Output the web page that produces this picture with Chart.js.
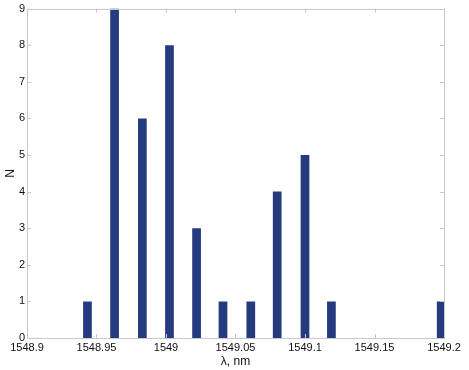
<!DOCTYPE html>
<html>
<head>
<meta charset="utf-8">
<script src="https://cdn.jsdelivr.net/npm/chart.js@4"></script>
<style>
	html, body { margin: 0; padding: 0; background: #fff; }
	#wrap { width: 469px; height: 370px; }
</style>
</head>
<body>
<div id="wrap"><canvas id="myChart"></canvas></div>
<script>
// bin centres (nm) and counts
var binCenters = [1548.9435, 1548.963, 1548.983, 1549.0025, 1549.022, 1549.041, 1549.061,
	1549.080, 1549.100, 1549.119, 1549.139, 1549.159, 1549.178, 1549.198];
var counts = [1, 9, 6, 8, 3, 1, 1, 4, 5, 1, 0, 0, 0, 1];
var xTicks = [1548.9, 1548.95, 1549, 1549.05, 1549.1, 1549.15, 1549.2];
var yTicks = [0, 1, 2, 3, 4, 5, 6, 7, 8, 9];

var points = binCenters.map(function (x, i) {
	return { x: x, y: counts[i] };
});

// box round the axes plus small inward ticks, matlab style
var boxPlugin = {
	id: 'box',
	afterDraw: function (chart) {
		var ctx = chart.ctx,
			a = chart.chartArea,
			xs = chart.scales.x,
			ys = chart.scales.y;
		ctx.save();
		ctx.strokeStyle = '#c8c8c8';
		ctx.lineWidth = 1;
		ctx.strokeRect(Math.round(a.left) + 0.5, Math.round(a.top) + 0.5,
			Math.round(a.right - a.left), Math.round(a.bottom - a.top));
		ctx.beginPath();
		xTicks.forEach(function (v) {
			var px = Math.round(xs.getPixelForValue(v)) + 0.5;
			ctx.moveTo(px, a.bottom);
			ctx.lineTo(px, a.bottom - 4);
			ctx.moveTo(px, a.top);
			ctx.lineTo(px, a.top + 4);
		});
		yTicks.forEach(function (v) {
			var py = Math.round(ys.getPixelForValue(v)) + 0.5;
			ctx.moveTo(a.left, py);
			ctx.lineTo(a.left + 4, py);
			ctx.moveTo(a.right, py);
			ctx.lineTo(a.right - 4, py);
		});
		ctx.stroke();
		ctx.restore();
	}
};

var fontFamily = '"Liberation Sans", Arial, sans-serif';
var tickFont = { family: fontFamily, size: 11 };

new Chart(document.getElementById('myChart'), {
	type: 'bar',
	data: {
		datasets: [{
			data: points,
			backgroundColor: '#263a80',
			borderWidth: 0,
			barPercentage: 0.33,
			categoryPercentage: 1
		}]
	},
	options: {
		responsive: true,
		maintainAspectRatio: false,
		animation: false,
		events: [],
		layout: { padding: { top: 8, right: 25, left: 0, bottom: 0 } },
		plugins: {
			legend: { display: false },
			tooltip: { enabled: false }
		},
		scales: {
			x: {
				type: 'linear',
				min: 1548.9,
				max: 1549.2,
				offset: false,
				afterBuildTicks: function (scale) {
					scale.ticks = xTicks.map(function (v) { return { value: v }; });
				},
				afterFit: function (scale) { scale.height = 32; },
				grid: { display: false, drawTicks: false },
				border: { display: false },
				ticks: {
					color: '#111',
					font: tickFont,
					padding: 3,
					maxRotation: 0,
					callback: function (v) { return String(v); }
				},
				title: {
					display: true,
					text: 'λ, nm',
					color: '#111',
					font: { family: fontFamily, size: 12 },
					padding: { top: 0, bottom: 1 }
				}
			},
			y: {
				min: 0,
				max: 9,
				afterBuildTicks: function (scale) {
					scale.ticks = yTicks.map(function (v) { return { value: v }; });
				},
				afterFit: function (scale) { scale.width = 27; },
				grid: { display: false, drawTicks: false },
				border: { display: false },
				ticks: {
					color: '#111',
					font: tickFont,
					padding: 2
				},
				title: {
					display: true,
					text: 'N',
					color: '#111',
					font: { family: fontFamily, size: 12 },
					padding: { top: 3, bottom: 0 }
				}
			}
		}
	},
	plugins: [boxPlugin]
});
</script>
</body>
</html>
